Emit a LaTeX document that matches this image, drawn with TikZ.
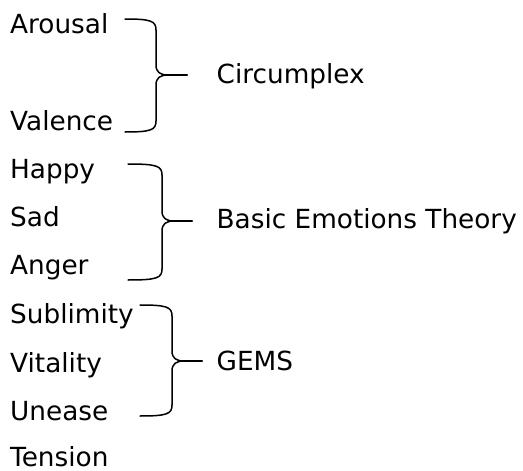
\documentclass[tikz,border=0pt]{standalone}
\usepackage{fontspec}
\setmainfont{DejaVu Sans}
% Right curly brace: #1 left x, #2 spine x, #3 tip x, #4 top y, #5 tip y, #6 bottom y
\newcommand\emobrace[6]{%
  \draw[bracestroke]
    (#1,#4) .. controls ({#2-5},#4) and (#2,{#4+2}) .. (#2,{#4+11})
    -- (#2,{#5-10}) .. controls (#2,{#5-3}) and ({#2+4},#5) .. ({#2+12},#5);
  \draw[bracestroke]
    (#1,#6) .. controls ({#2-5},#6) and (#2,{#6-2}) .. (#2,{#6-11})
    -- (#2,{#5+10}) .. controls (#2,{#5+3}) and ({#2+4},#5) .. ({#2+12},#5);
  \draw[bracestroke, line width=2.4pt] ({#2+10},#5) -- (#3,#5);
}
\begin{document}
\begin{tikzpicture}[x=1pt, y=-1pt,
  lbl/.style={inner sep=0pt, anchor=base west,
    font=\fontsize{26.3}{30}\selectfont},
  bracestroke/.style={line width=1.5pt, line cap=round, black}]
\useasboundingbox (0,0) rectangle (523,471);

% item column
\node[lbl] (arousal)   at (10,33)    {Arousal};
\node[lbl] (valence)   at (10,130)   {Valence};
\node[lbl] (happy)     at (10,178)   {Happy};
\node[lbl] (sad)       at (10,226.5) {Sad};
\node[lbl] (anger)     at (10,274)   {Anger};
\node[lbl] (sublimity) at (10,323)   {Sublimity};
\node[lbl] (vitality)  at (10,372)   {Vitality};
\node[lbl] (unease)    at (10,420)   {Unease};
\node[lbl] (tension)   at (10,466)   {Tension};

% model column
\node[lbl] (circumplex) at (216.5,83)  {Circumplex};
\node[lbl] (basic)      at (216.5,228) {Basic Emotions Theory};
\node[lbl] (gems)       at (216.5,370) {GEMS};

% braces grouping the items
\emobrace{125}{156}{187}{19}{75}{132}
\emobrace{128}{162}{192}{164}{221}{280}
\emobrace{140}{172}{202}{305}{361}{416}
\end{tikzpicture}
\end{document}
